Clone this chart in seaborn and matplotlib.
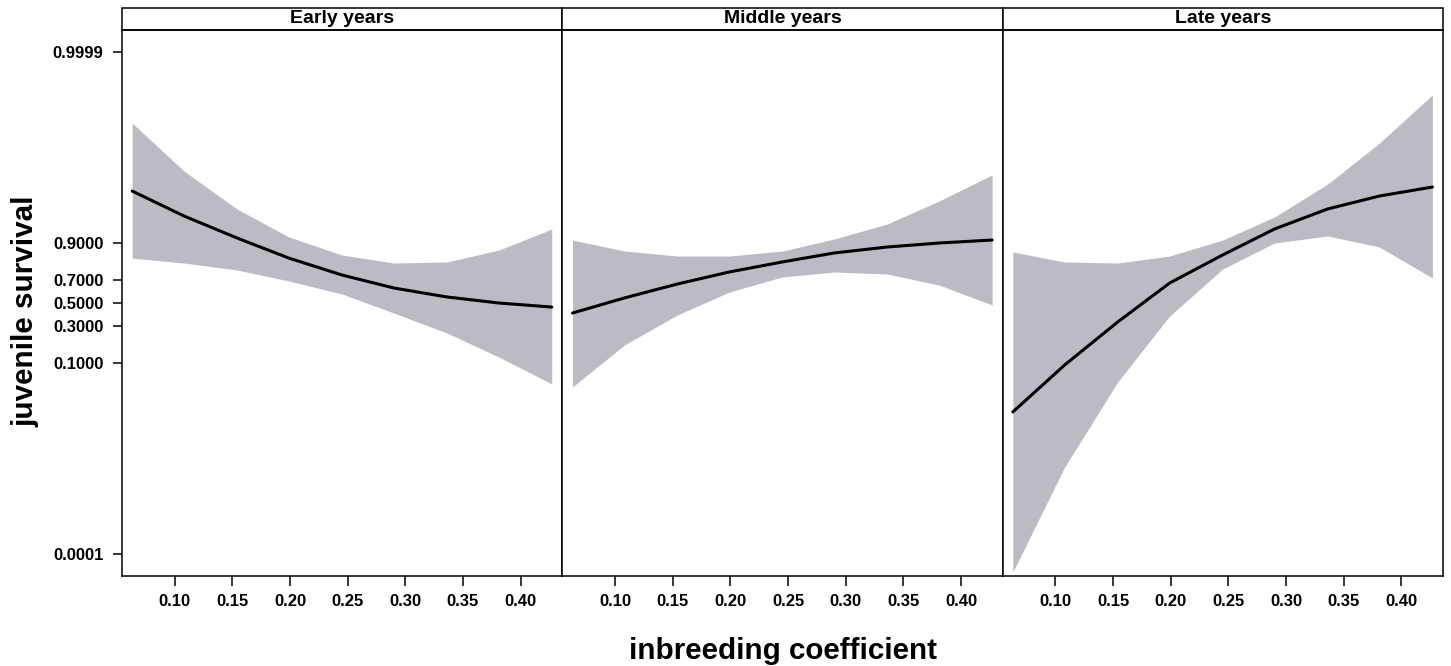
import numpy as np
import pandas as pd
import matplotlib
matplotlib.use('Agg')
import matplotlib.pyplot as plt
from matplotlib.patches import Rectangle
from matplotlib.ticker import FixedLocator, NullLocator
import seaborn as sns

# ------- data (survival probability, logit axis) -------
periods = ['Early years', 'Middle years', 'Late years']
inbreeding = [0.063, 0.108, 0.154, 0.199, 0.245, 0.290, 0.336, 0.381, 0.427]

early_fit = [0.9837, 0.9603, 0.9153, 0.838, 0.736, 0.634, 0.555, 0.500, 0.463]
early_low = [0.838, 0.812, 0.770, 0.691, 0.582, 0.409, 0.250, 0.1217, 0.0490]
early_up = [0.99863, 0.9921, 0.9690, 0.9181, 0.853, 0.812, 0.818, 0.874, 0.9376]

middle_fit = [0.409, 0.546, 0.667, 0.757, 0.818, 0.862, 0.886, 0.900, 0.9094]
middle_low = [0.0441, 0.1768, 0.392, 0.599, 0.722, 0.757, 0.743, 0.659, 0.482]
middle_up = [0.9094, 0.8704, 0.848, 0.848, 0.870, 0.9124, 0.9475, 0.9767, 0.9909]

late_fit = [0.01815, 0.0937, 0.333, 0.675, 0.853, 0.9376, 0.9690, 0.9805, 0.9859]
late_low = [0.0000527, 0.002457, 0.0525, 0.383, 0.776, 0.900, 0.921, 0.886, 0.714]
late_up = [0.866, 0.818, 0.812, 0.848, 0.9094, 0.9589, 0.9873, 0.99715, 0.99951]

y_ticks = [0.0001, 0.1, 0.3, 0.5, 0.7, 0.9, 0.9999]
x_ticks = [0.10, 0.15, 0.20, 0.25, 0.30, 0.35, 0.40]

# long table for FacetGrid
frames = []
for name, fit, low, up in [(periods[0], early_fit, early_low, early_up),
                           (periods[1], middle_fit, middle_low, middle_up),
                           (periods[2], late_fit, late_low, late_up)]:
    frames.append(pd.DataFrame({'period': name, 'inbreeding': inbreeding,
                                'fit': fit, 'lower': low, 'upper': up}))
df = pd.concat(frames, ignore_index=True)

sns.set_style('white')
plt.rcParams['font.family'] = ['Liberation Sans', 'DejaVu Sans']
plt.rcParams['font.weight'] = 'bold'
plt.rcParams['text.color'] = 'black'
plt.rcParams['axes.labelcolor'] = 'black'

band_color = '#bdbac4'


def draw_panel(data, **kws):
    ax = plt.gca()
    ax.fill_between(data['inbreeding'], data['lower'], data['upper'],
                    color=band_color, linewidth=0)
    sns.lineplot(data=data, x='inbreeding', y='fit', color='black',
                 linewidth=2.2, estimator=None, ax=ax)


g = sns.FacetGrid(df, col='period', col_order=periods, sharex=True, sharey=True,
                  height=5, aspect=1)
g.map_dataframe(draw_panel)
g.set_titles('')
g.set_axis_labels('', '')

fig = g.figure
fig.set_size_inches(14.51, 6.66)
fig.subplots_adjust(left=0.0841, right=0.9945, bottom=0.1351, top=0.9550, wspace=0)

strip_h = 22 / 546
for i, ax in enumerate(g.axes.flat):
    ax.set_yscale('logit')
    ax.set_ylim(4.54e-5, 0.9999546)
    ax.set_xlim(0.0542, 0.4362)
    ax.yaxis.set_major_locator(FixedLocator(y_ticks))
    ax.yaxis.set_minor_locator(NullLocator())
    ax.set_yticks(y_ticks)
    ax.set_yticklabels([f'{v:.4f}' for v in y_ticks])
    ax.set_xticks(x_ticks)
    ax.set_xticklabels([f'{v:.2f}' for v in x_ticks])
    ax.tick_params(axis='x', direction='out', length=7, width=1.1, pad=6,
                   labelsize=12, bottom=True, colors='black')
    ax.tick_params(axis='y', direction='out', length=6.5, width=1.1, pad=7,
                   labelsize=12, left=(i == 0), labelleft=(i == 0), colors='black')
    for lab in ax.get_xticklabels() + ax.get_yticklabels():
        lab.set_fontweight('bold')
    for sp in ax.spines.values():
        sp.set_visible(True)
        sp.set_color('black')
        sp.set_linewidth(1.1)
    ax.set_xlabel('')
    ax.set_ylabel('')

    # lattice-style strip
    ax.add_patch(Rectangle((0, 1), 1, strip_h, transform=ax.transAxes,
                           facecolor='white', edgecolor='black', linewidth=1.1,
                           clip_on=False))
    ax.text(0.5, 1 + strip_h / 2, periods[i], transform=ax.transAxes,
            ha='center', va='center', fontsize=14, fontweight='bold')

fig.text(783 / 1451, 1 - 651 / 666, 'inbreeding coefficient', ha='center',
         va='center', fontsize=21.3, fontweight='bold')
fig.text(25 / 1451, 1 - 311 / 666, 'juvenile survival', ha='center',
         va='center', rotation=90, fontsize=21.3, fontweight='bold')

fig.savefig('out.png', dpi=100, facecolor='white')
